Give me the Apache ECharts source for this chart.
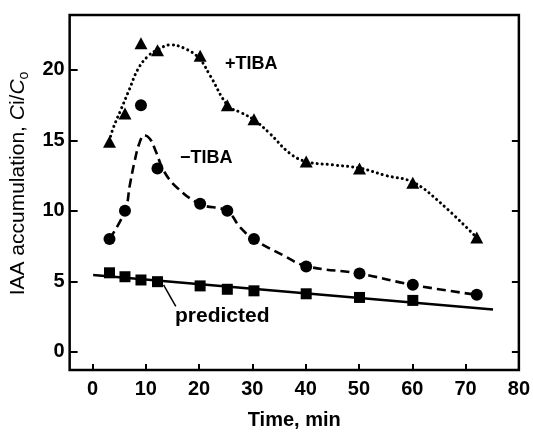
<!DOCTYPE html>
<html>
<head>
<meta charset="utf-8">
<script src="https://cdn.jsdelivr.net/npm/echarts@6/dist/echarts.min.js"></script>
<style>html,body{margin:0;padding:0;background:#fff;}#c{width:533px;height:435px;}</style>
</head>
<body>
<div id="c"></div>
<script>
// ---- data ----
const times = [3.2, 6.1, 9.1, 12.2, 20.2, 25.3, 30.3, 40.1, 50.1, 60.1, 72.1];
const plusTIBA = [14.9, 16.9, 21.9, 21.4, 21.0, 17.5, 16.5, 13.5, 13.0, 12.0, 8.1];
const minusTIBA = [8.0, 10.0, 17.5, 13.0, 10.5, 10.0, 8.0, 6.05, 5.55, 4.75, 4.05];
const predictedTimes = [3.2, 6.1, 9.1, 12.2, 20.2, 25.3, 30.3, 40.1, 50.1, 60.1];
const predictedVals = [5.6, 5.32, 5.09, 4.97, 4.67, 4.43, 4.32, 4.11, 3.85, 3.64];

// fitted curves
const plusCurveX = [3.16, 3.85, 5.39, 6.94, 8.5, 10.36, 12.22, 14.7, 17.17, 19.96, 22.14, 25.43, 28.0, 30.32, 33.3, 37.02, 40.12, 45.07, 50.17, 55.0, 60.08, 64.92, 72.17];
const plusCurveY = [14.94, 15.83, 17.23, 18.63, 20.03, 20.96, 21.43, 21.78, 21.55, 20.85, 19.56, 17.46, 16.95, 16.46, 15.48, 14.08, 13.49, 13.26, 13.03, 12.51, 12.04, 10.69, 8.07];
const minusCurveX = [3.22, 6.14, 7.0, 7.9, 8.8, 9.73, 10.8, 11.8, 13.45, 15.94, 20.28, 25.24, 27.72, 30.19, 35.77, 40.12, 50.04, 60.08, 72.04];
const minusCurveY = [8.0, 10.03, 11.8, 13.5, 14.8, 15.37, 15.1, 14.3, 12.79, 11.62, 10.46, 9.99, 8.82, 8.0, 6.84, 6.07, 5.55, 4.74, 4.04];
const predictedLineX = [0.13, 75.15];
const predictedLineY = [5.44, 2.99];
const leaderX = [13.34, 15.63];
const leaderY = [4.74, 3.22];

const xTicks = [0, 10, 20, 30, 40, 50, 60, 70];
const xLabels = [0, 10, 20, 30, 40, 50, 60, 70, 80];
const yTicks = [0, 5, 10, 15, 20];
const yTicksRight = [0, 5, 10, 15];

const zip = (a, b) => a.map((v, i) => [v, b[i]]);
const FONT = 'Liberation Sans, Arial, Helvetica, sans-serif';
const INK = '#000';

const chart = echarts.init(document.getElementById('c'), null, {renderer: 'canvas'});
chart.setOption({
  backgroundColor: '#fff',
  animation: false,
  grid: {left: 68, right: 12, top: 15, bottom: 61, show: true, borderColor: INK, borderWidth: 2.5, backgroundColor: 'transparent'},
  xAxis: {
    type: 'value', min: -4.28, max: 80,
    axisLine: {show: false, onZero: false},
    splitLine: {show: false},
    axisTick: {show: true, inside: true, length: 6, customValues: xTicks, lineStyle: {color: INK, width: 2}},
    axisLabel: {customValues: xLabels, fontFamily: FONT, fontSize: 20, fontWeight: 'bold', color: INK, margin: 9},
    name: 'Time, min', nameLocation: 'middle', nameGap: 40,
    nameTextStyle: {fontFamily: FONT, fontSize: 20, fontWeight: 'bold', color: INK}
  },
  yAxis: [{
    type: 'value', min: -1.3, max: 23.9,
    axisLine: {show: false, onZero: false},
    splitLine: {show: false},
    axisTick: {show: true, inside: true, length: 8, customValues: yTicks, lineStyle: {color: INK, width: 2}},
    axisLabel: {customValues: yTicks, fontFamily: FONT, fontSize: 20, fontWeight: 'bold', color: INK, margin: 5},
    name: '{a|IAA accumulation, }{b|C}{a|i/}{b|C}{c|o}', nameLocation: 'middle', nameGap: 37, nameRotate: 90,
    nameTextStyle: {
      fontFamily: FONT, fontSize: 21, color: INK, padding: [0, 0, 0, 18],
      rich: {
        a: {fontFamily: FONT, fontSize: 21, color: INK, lineHeight: 26},
        b: {fontFamily: FONT, fontSize: 21, color: INK, fontStyle: 'italic', lineHeight: 26},
        c: {fontFamily: FONT, fontSize: 14, color: INK, lineHeight: 26, verticalAlign: 'bottom'}
      }
    }
  }, {
    type: 'value', min: -1.3, max: 23.9, position: 'right',
    axisLine: {show: false, onZero: false},
    splitLine: {show: false},
    axisTick: {show: true, inside: true, length: 7, customValues: yTicksRight, lineStyle: {color: INK, width: 2}},
    axisLabel: {show: false}
  }],
  series: [
    {type: 'line', data: zip(plusCurveX, plusCurveY), smooth: 0.4, showSymbol: false, symbol: 'none',
     lineStyle: {color: INK, width: 3, type: [0.1, 5], cap: 'round'}, z: 2},
    {type: 'scatter', data: zip(times, plusTIBA), symbol: 'triangle', symbolSize: [13, 12],
     itemStyle: {color: INK, opacity: 1}, z: 3},
    {type: 'line', data: zip(minusCurveX, minusCurveY), smooth: 0.4, showSymbol: false, symbol: 'none',
     lineStyle: {color: INK, width: 2.6, type: [9, 5]}, z: 2},
    {type: 'scatter', data: zip(times, minusTIBA), symbol: 'circle', symbolSize: 12,
     itemStyle: {color: INK, opacity: 1}, z: 3},
    {type: 'line', data: zip(predictedLineX, predictedLineY), showSymbol: false, symbol: 'none',
     lineStyle: {color: INK, width: 2.6}, z: 2},
    {type: 'scatter', data: zip(predictedTimes, predictedVals), symbol: 'rect', symbolSize: 11,
     itemStyle: {color: INK, opacity: 1}, z: 3},
    {type: 'line', data: zip(leaderX, leaderY), showSymbol: false, symbol: 'none',
     lineStyle: {color: INK, width: 1.5}, z: 2}
  ],
  graphic: [
    {type: 'text', left: 225, top: 55, style: {text: '+TIBA', fontFamily: FONT, fontSize: 18, fontWeight: 'bold', fill: INK}},
    {type: 'text', left: 180, top: 149, style: {text: '\u2212TIBA', fontFamily: FONT, fontSize: 18, fontWeight: 'bold', fill: INK}},
    {type: 'text', left: 175, top: 306, style: {text: 'predicted', fontFamily: FONT, fontSize: 21, fontWeight: 'bold', fill: INK}}
  ]
});
</script>
</body>
</html>
